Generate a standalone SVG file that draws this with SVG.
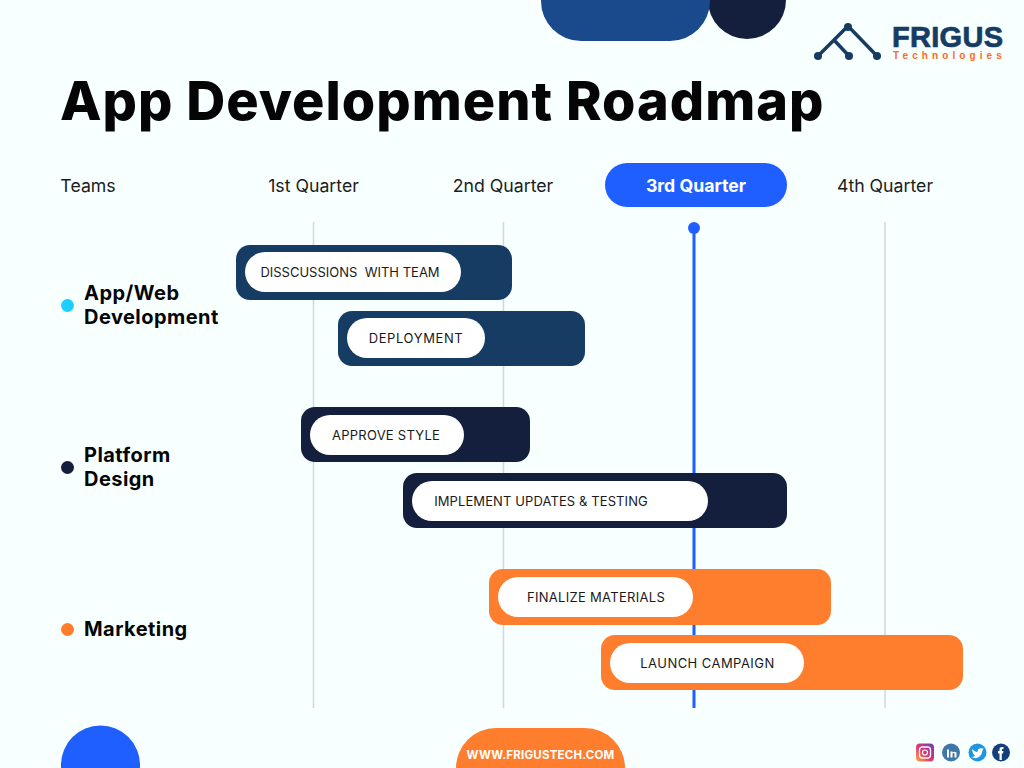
<svg xmlns="http://www.w3.org/2000/svg" width="1024" height="768" viewBox="0 0 1024 768">
<defs><linearGradient id="ig" x1="0" y1="1" x2="1" y2="0"><stop offset="0" stop-color="#fdb03c"/><stop offset=".45" stop-color="#e0356f"/><stop offset="1" stop-color="#6a3fc4"/></linearGradient></defs>
<style>
.f{font-family:"Inter","Liberation Sans",sans-serif}
.hd{font-family:"Inter","Liberation Sans",sans-serif;font-size:17.700px;fill:#1c1c1c;text-anchor:middle}
.team{font-family:"Inter","Liberation Sans",sans-serif;font-size:20px;font-weight:700;letter-spacing:.45px;fill:#050505}
.lb{font-family:"Inter","Liberation Sans",sans-serif;font-size:13px;fill:#1a1a1a;text-anchor:middle;white-space:pre}
.pill{fill:#fff}
.grid{stroke:#cfd8d8;stroke-width:1.5}
.navy{fill:#163c63}.dark{fill:#131f3d}.or{fill:#ff7e2e}
</style>
<rect width="1024" height="768" fill="#f7ffff"/>
<g id="decor">
<circle cx="747" cy="0" r="39" fill="#131f3d"/>
<path d="M541 0H710V1A40 40 0 0 1 670 41H581A40 40 0 0 1 541 1Z" fill="#1a4a8c"/>
<path d="M61 768V765A39.500 39.500 0 0 1 140 765V768Z" fill="#1f5fff"/>
<path d="M456 768A40 40 0 0 1 496 728H585A40 40 0 0 1 625 768Z" fill="#ff7e2e"/>
<text x="540.500" y="759" text-anchor="middle" font-family="Inter,'Liberation Sans',sans-serif" font-size="11.500" font-weight="700" letter-spacing=".2" fill="#fff">WWW.FRIGUSTECH.COM</text>
</g>
<g id="logo">
<path d="M818 56L848 26L877 56M834 40L849 56" fill="none" stroke="#163c63" stroke-width="3.500"/>
<g fill="#163c63"><circle cx="848" cy="27" r="4"/><circle cx="818" cy="56" r="4"/><circle cx="849" cy="56" r="4"/><circle cx="877" cy="56" r="4"/></g>
<text x="892" y="47" font-family="'Liberation Sans',sans-serif" font-size="29" font-weight="700" letter-spacing=".3" stroke="#163c63" stroke-width=".7" fill="#163c63">FRIGUS</text>
<text x="893" y="59" font-family="'Liberation Sans',sans-serif" font-size="10" font-weight="700" letter-spacing="4.100" fill="#ff6a22">Technologies</text>
</g>
<text id="title" x="60" y="120" class="f" font-size="54" font-weight="800" letter-spacing="1" fill="#050505">App Development Roadmap</text>
<g id="header">
<rect x="605" y="163" width="182" height="44" rx="22" fill="#1f5fff"/>
<text x="88" y="192" class="hd">Teams</text>
<text x="313.500" y="192" class="hd">1st Quarter</text>
<text x="503" y="192" class="hd">2nd Quarter</text>
<text x="696" y="192" class="hd" style="fill:#fff;font-weight:700">3rd Quarter</text>
<text x="885" y="192" class="hd">4th Quarter</text>
</g>
<g id="connectors">
<path class="grid" d="M313.500 222V708M503.500 222V708M885 222V708"/>
<path d="M694 228V708" stroke="#1f5fff" stroke-width="3"/>
<circle cx="694" cy="228" r="6" fill="#1f5fff"/>
</g>
<g id="team-app"><circle cx="67.500" cy="305.500" r="6.500" fill="#1dcfff"/><text class="team" x="84" y="300">App/Web</text><text class="team" x="84" y="324">Development</text></g>
<g id="team-design"><circle cx="67.500" cy="467.500" r="6.500" fill="#131f3d"/><text class="team" x="84" y="462">Platform</text><text class="team" x="84" y="486">Design</text></g>
<g id="team-marketing"><circle cx="67.500" cy="629.500" r="6.500" fill="#ff7e2e"/><text class="team" x="84" y="636">Marketing</text></g>
<g id="bar1"><rect class="navy" x="236" y="245" width="276" height="55" rx="14"/><rect class="pill" x="245" y="252" width="216" height="40" rx="20"/><text class="lb" x="350" y="277">DISSCUSSIONS  WITH TEAM</text></g>
<g id="bar2"><rect class="navy" x="338" y="311" width="247" height="55" rx="14"/><rect class="pill" x="347" y="318" width="138" height="40" rx="20"/><text class="lb" x="416" y="343" letter-spacing=".6">DEPLOYMENT</text></g>
<g id="bar3"><rect class="dark" x="301" y="407" width="229" height="55" rx="14"/><rect class="pill" x="310" y="415" width="154" height="40" rx="20"/><text class="lb" x="386" y="440" letter-spacing=".25">APPROVE STYLE</text></g>
<g id="bar4"><rect class="dark" x="403" y="473" width="384" height="55" rx="14"/><rect class="pill" x="412" y="481" width="296" height="40" rx="20"/><text class="lb" x="541" y="506" letter-spacing=".1">IMPLEMENT UPDATES &amp; TESTING</text></g>
<g id="bar5"><rect class="or" x="489" y="569" width="342" height="56" rx="14"/><rect class="pill" x="498" y="577" width="195" height="40" rx="20"/><text class="lb" x="596" y="602" letter-spacing=".3">FINALIZE MATERIALS</text></g>
<g id="bar6"><rect class="or" x="601" y="635" width="362" height="55" rx="14"/><rect class="pill" x="610" y="643" width="194" height="40" rx="20"/><text class="lb" x="707.500" y="668" letter-spacing=".45">LAUNCH CAMPAIGN</text></g>
<g id="social">
<rect x="916" y="743.500" width="18" height="18" rx="4" fill="url(#ig)"/><rect x="919.500" y="747" width="11" height="11" rx="3" fill="none" stroke="#fff" stroke-width="1.300"/><circle cx="925" cy="752.500" r="2.500" fill="none" stroke="#fff" stroke-width="1.200"/>
<circle cx="951" cy="752.500" r="9" fill="#3f77a8"/><circle cx="977.500" cy="752.500" r="9" fill="#2196e0"/><path d="M972 749Q976 753 977.500 751.500Q978.500 747.500 982 748.500L983.500 748.500L982.500 750.500Q982 756 977 758Q974 758.500 971.500 757Q974 757 975 755.500Q972.500 754 972 749Z" fill="#fff"/><circle cx="1001" cy="752.500" r="9" fill="#153f7a"/><path d="M947 749.500h2v8h-2zM950.500 751.500h2v1q2-1.500 4 0v5h-2v-4q-1.500-1-2 .5v3.500h-2z" fill="#fff"/><path d="M999.500 760V753.500H998V751H999.500V749Q999.500 746.500 1003.500 747V749H1002.500Q1001.800 749 1001.800 750V751H1003.500L1003 753.500H1001.800V760Z" fill="#fff"/>
</g>
</svg>
